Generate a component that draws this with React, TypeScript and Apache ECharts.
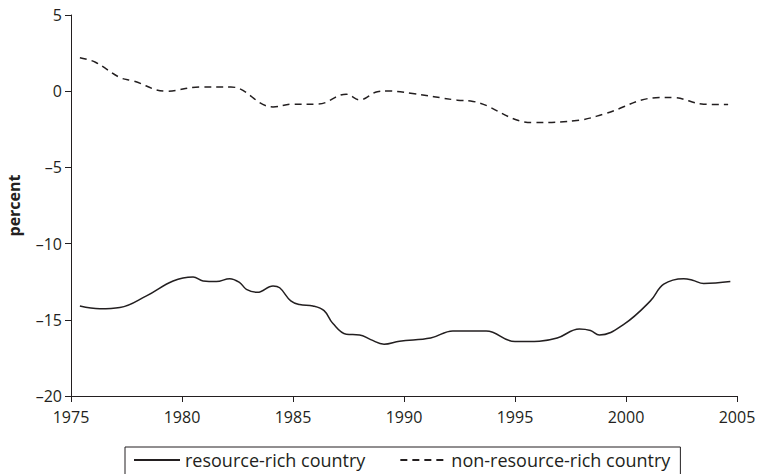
import React, { useEffect, useRef } from "react";
import * as echarts from "echarts";

const richYears = [1975.4, 1976.3, 1977.2, 1978.4, 1979.6, 1980.5, 1980.95, 1981.55, 1982.15, 1982.6, 1982.9, 1983.4, 1984.1, 1984.4, 1984.9, 1985.3, 1985.9, 1986.4, 1986.8, 1987.4, 1988.0, 1988.5, 1989.1, 1989.8, 1991.2, 1992.2, 1993.7, 1995.0, 1996.1, 1996.9, 1997.9, 1998.4, 1998.8, 1999.9, 2001.1, 2001.7, 2002.6, 2003.0, 2003.5, 2004.7];
const richValues = [-14.1, -14.28, -14.2, -13.43, -12.45, -12.19, -12.45, -12.49, -12.3, -12.56, -13.0, -13.2, -12.78, -12.9, -13.76, -14.0, -14.09, -14.4, -15.25, -15.95, -15.99, -16.3, -16.6, -16.4, -16.2, -15.73, -15.73, -16.43, -16.4, -16.2, -15.6, -15.7, -16.0, -15.3, -13.76, -12.66, -12.3, -12.4, -12.62, -12.49];

const nonRichYears = [1975.4, 1976.1, 1977.2, 1977.8, 1979.3, 1980.8, 1982.2, 1984.1, 1985.0, 1986.1, 1987.4, 1988.0, 1988.8, 1989.2, 1990.3, 1992.4, 1993.0, 1995.8, 1997.9, 1999.0, 2001.5, 2002.1, 2003.5, 2004.6];
const nonRichValues = [2.2, 1.9, 0.9, 0.68, 0.0, 0.28, 0.28, -1.03, -0.85, -0.85, -0.2, -0.57, -0.03, 0.02, -0.13, -0.59, -0.64, -2.06, -1.9, -1.5, -0.42, -0.42, -0.85, -0.88];

const seriesNames = ["resource-rich country", "non-resource-rich country"];

const FONT = "'Open Sans', 'Noto Sans', sans-serif";
const TEXT = "#231f20";

export default function App() {
  const ref = useRef<HTMLDivElement>(null);
  useEffect(() => {
    if (!ref.current) return;
    const chart = echarts.init(ref.current, undefined, { renderer: "svg" });
    const rich = richYears.map((y, i) => [y, richValues[i]]);
    const nonRich = nonRichYears.map((y, i) => [y, nonRichValues[i]]);
    chart.setOption({
      animation: false,
      backgroundColor: "#fff",
      grid: { left: 71, right: 22, top: 15, bottom: 78, outerBoundsMode: "none", containLabel: false },
      xAxis: {
        type: "value",
        min: 1975,
        max: 2005,
        interval: 5,
        axisLine: { show: true, onZero: false, lineStyle: { color: TEXT, width: 1 } },
        axisTick: { show: true, length: 6, lineStyle: { color: TEXT } },
        axisLabel: {
          color: TEXT,
          fontFamily: FONT,
          fontSize: 16,
          margin: 13,
          formatter: (v: number) => String(v),
        },
        splitLine: { show: false },
      },
      yAxis: {
        type: "value",
        min: -20,
        max: 5,
        interval: 5,
        name: "percent",
        nameLocation: "middle",
        nameGap: 49,
        nameTextStyle: { color: TEXT, fontFamily: FONT, fontSize: 16, fontWeight: "bold" },
        axisLine: { show: true, onZero: false, lineStyle: { color: TEXT, width: 1 } },
        axisTick: { show: true, length: 6, lineStyle: { color: TEXT } },
        axisLabel: {
          color: TEXT,
          fontFamily: FONT,
          fontSize: 16,
          margin: 9,
          formatter: (v: number) => (v < 0 ? "\u2013" + Math.abs(v) : String(v)),
        },
        splitLine: { show: false },
      },
      legend: {
        left: 125,
        top: 447,
        itemWidth: 46,
        itemHeight: 10,
        itemGap: 34,
        padding: [4, 10, 20, 8],
        borderColor: TEXT,
        borderWidth: 1,
        itemStyle: { opacity: 0 },
        textStyle: { color: TEXT, fontFamily: FONT, fontSize: 18 },
        data: seriesNames,
      },
      series: [
        {
          name: seriesNames[0],
          type: "line",
          data: rich,
          smooth: 0.4,
          symbol: "none",
          lineStyle: { color: "#231f20", width: 1.5, type: "solid" },
          itemStyle: { color: "#231f20" },
        },
        {
          name: seriesNames[1],
          type: "line",
          data: nonRich,
          smooth: 0.4,
          symbol: "none",
          lineStyle: { color: "#231f20", width: 1.5, type: [7, 5] },
          itemStyle: { color: "#231f20" },
        },
      ],
    });
    return () => chart.dispose();
  }, []);
  return <div ref={ref} style={{ width: 759, height: 474, position: "absolute", left: 0, top: 0 }} />;
}
